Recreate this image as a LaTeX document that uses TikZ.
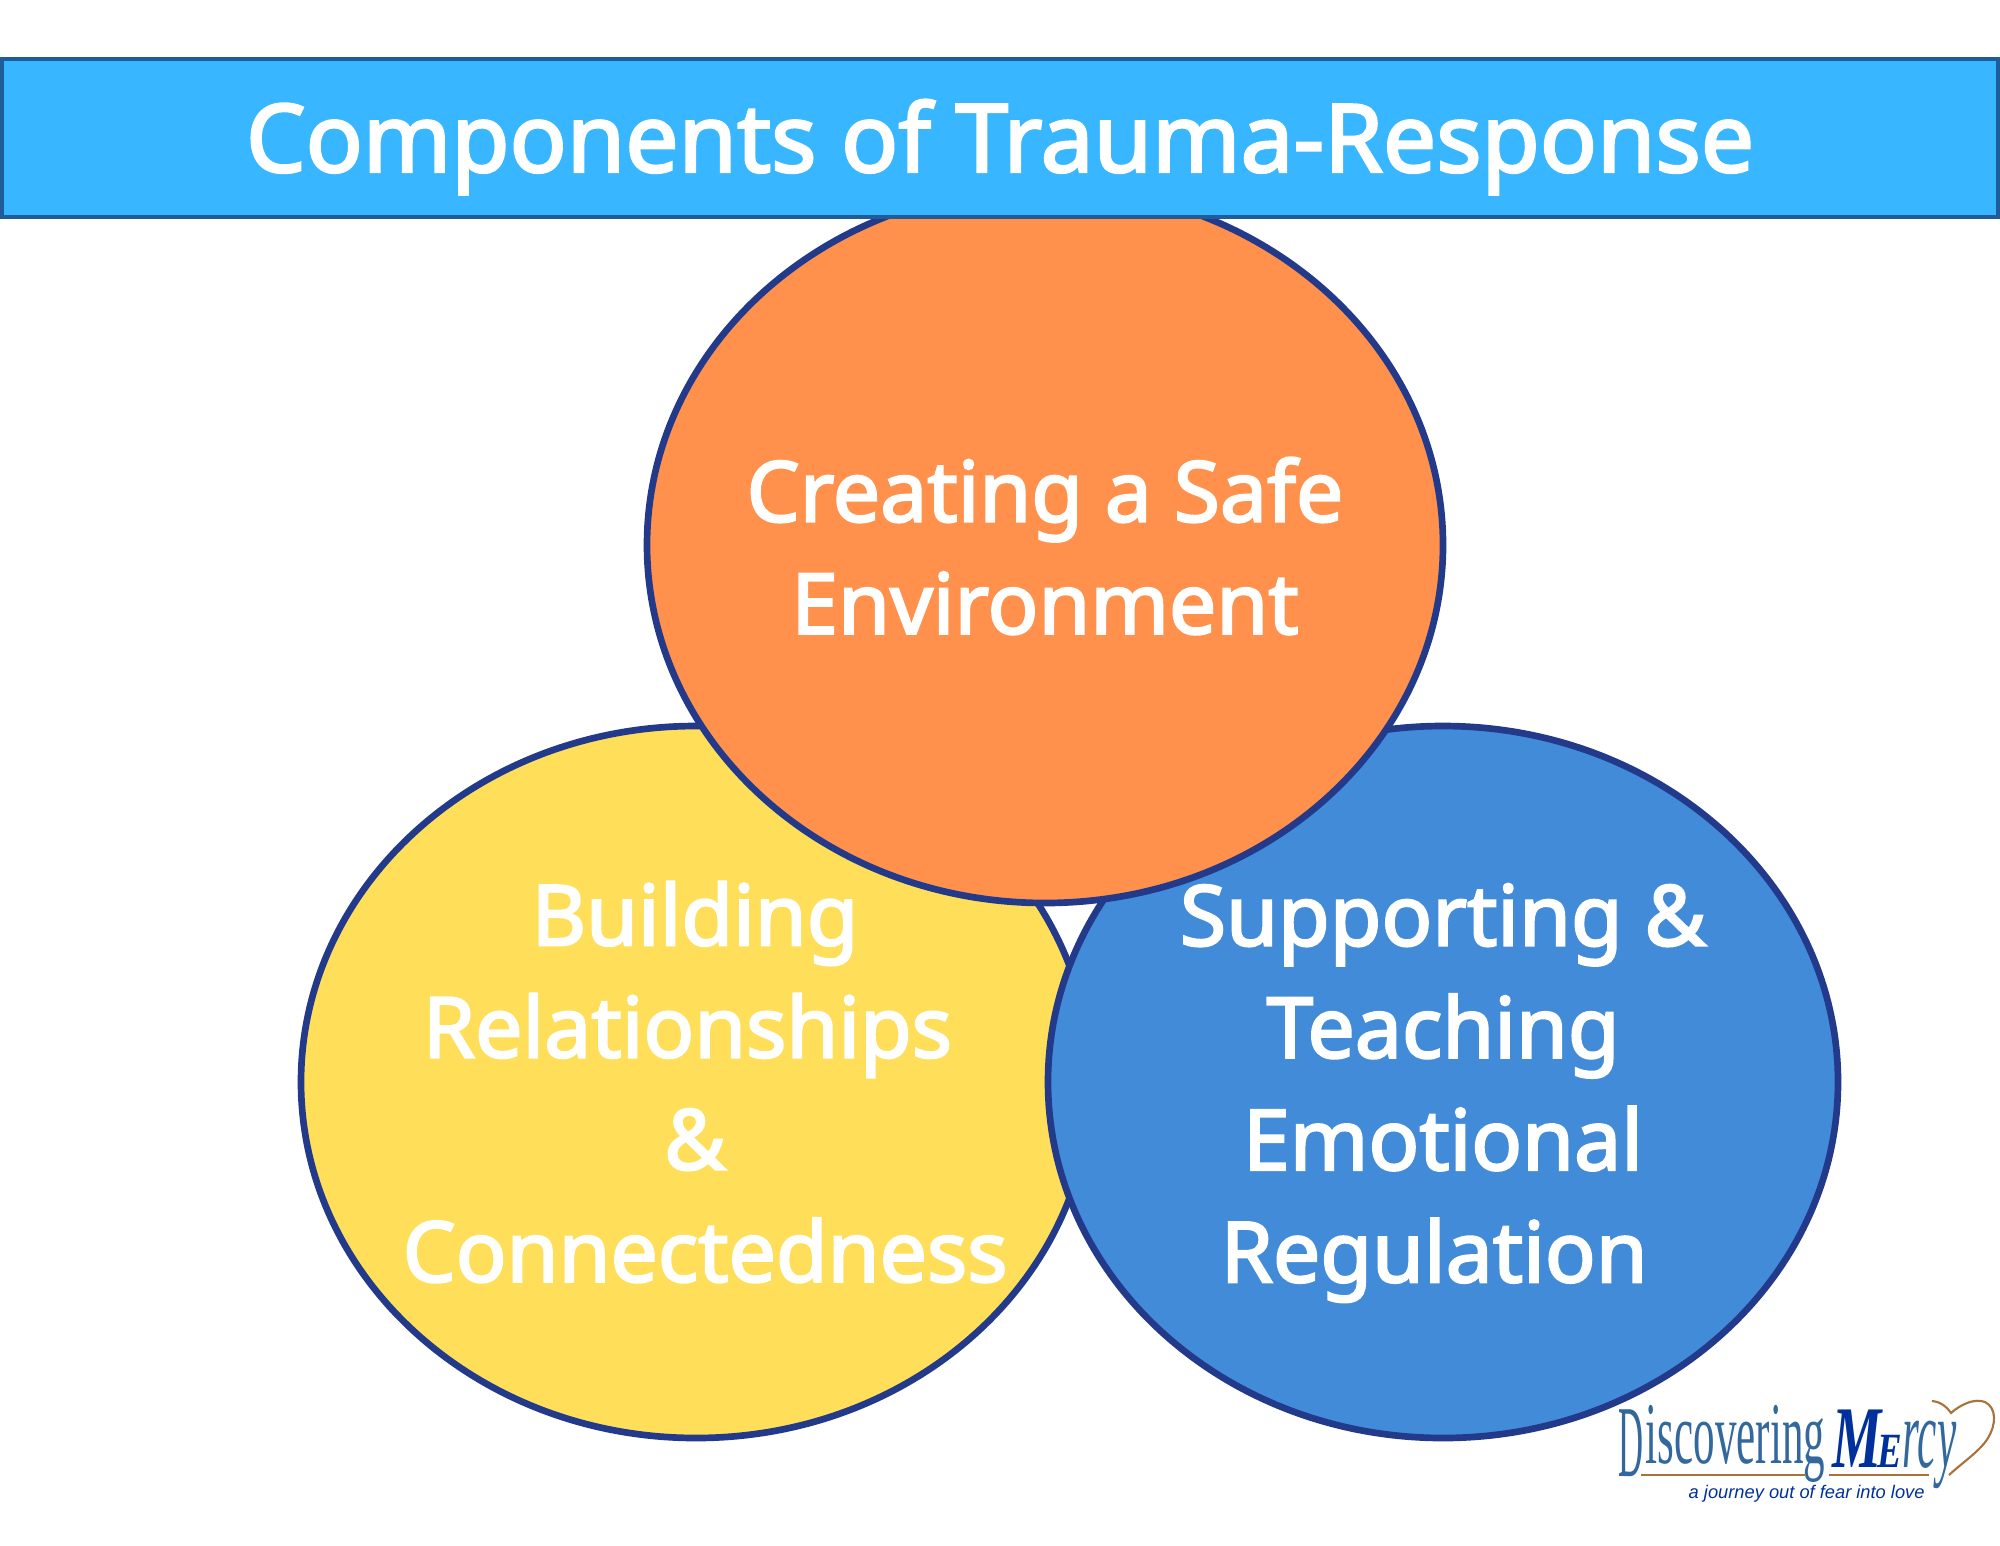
\documentclass[tikz,border=0pt]{standalone}
\usepackage{fontspec}
\newfontfamily\labelfont{Noto Sans}[FakeBold=2.6]
\newfontfamily\logoserif{Liberation Serif}
\newfontfamily\logosans{Liberation Sans}
\definecolor{barblue}{HTML}{38B6FF}
\definecolor{baredge}{HTML}{1F5C99}
\definecolor{ringblue}{HTML}{233A8B}
\definecolor{safeorange}{HTML}{FF914D}
\definecolor{bondyellow}{HTML}{FFDE59}
\definecolor{teachblue}{HTML}{428BD9}
\definecolor{logoblue}{HTML}{33689F}
\definecolor{logodark}{HTML}{00309C}
\definecolor{logobrown}{HTML}{A87238}
\tikzset{
  ring/.style={draw=ringblue,line width=1.9pt},
  ringtext/.style={text=white,align=center,font=\fontsize{23.9}{31.9}\selectfont\labelfont},
  logotext/.style={inner sep=0,anchor=base west},
}
\begin{document}
\begin{tikzpicture}[x=0.01cm,y=-0.01cm]
 \useasboundingbox (0,0) rectangle (2000,1545);
 % circles, the orange one goes over the others
 \draw[ring,fill=bondyellow](696,1082) ellipse (395 and 356);
 \draw[ring,fill=teachblue](1443,1082) ellipse (395 and 356);
 \draw[ring,fill=safeorange](1045,545) ellipse (398 and 358);
 % title bar
 \draw[fill=barblue,draw=baredge,line width=1.1pt](2,59) rectangle (1998,217);
 \node[text=white,font=\fontsize{26.9}{30}\selectfont\labelfont,anchor=base] (title) at (1000,172) {Components of Trauma-Response};
 % labels
 \node[ringtext] (safe) at (1045,546) {Creating a Safe\\Environment};
 \node[ringtext] (bond) at (695,1082) {Building\\Relationships\hspace*{0.18em}\mbox{}\\\&\\\hspace*{0.24em}Connectedness};
 \node[ringtext] (teach) at (1443,1093) {Supporting \&\\Teaching\\Emotional\\Regulation\hspace*{0.21em}};
 % logo
 \node[logotext,text=logoblue,font=\fontsize{29}{30}\selectfont\logoserif] (dd) at (1618,1476) {\scalebox{0.34}[1]{D}};
 \node[logotext,text=logoblue,font=\fontsize{25}{30}\selectfont\logoserif] (disc) at (1645,1463) {\scalebox{0.49}[1]{iscovering}};
 \node[logotext,text=logodark,font=\fontsize{25}{30}\selectfont\logoserif\bfseries\itshape] (mm) at (1832,1467) {\scalebox{0.63}[1]{M}};
 \node[logotext,text=logodark,font=\fontsize{14}{30}\selectfont\logoserif\bfseries\itshape] (ee) at (1877,1467) {\scalebox{0.75}[1]{E}};
 \node[logotext,text=logoblue,font=\fontsize{28}{30}\selectfont\logoserif\itshape] (cy) at (1902,1467) {\scalebox{0.44}[1]{rcy}};
 \draw[logobrown,line width=0.45pt](1641,1475)--(1806,1475);
 \draw[logobrown,line width=0.45pt](1829,1475)--(1929,1475);
 \draw[logobrown,line width=0.6pt](1932,1401) .. controls (1941,1402) and (1946,1406) .. (1951,1413) .. controls (1961,1404) and (1975,1398) .. (1985,1402) .. controls (1997,1408) and (1996,1425) .. (1988,1438) .. controls (1980,1451) and (1963,1462) .. (1949,1475);
 \node[logotext,text=logodark,font=\fontsize{5.2}{6}\selectfont\logosans\itshape] (tag) at (1688,1498) {a journey out of fear into love};
\end{tikzpicture}
\end{document}
